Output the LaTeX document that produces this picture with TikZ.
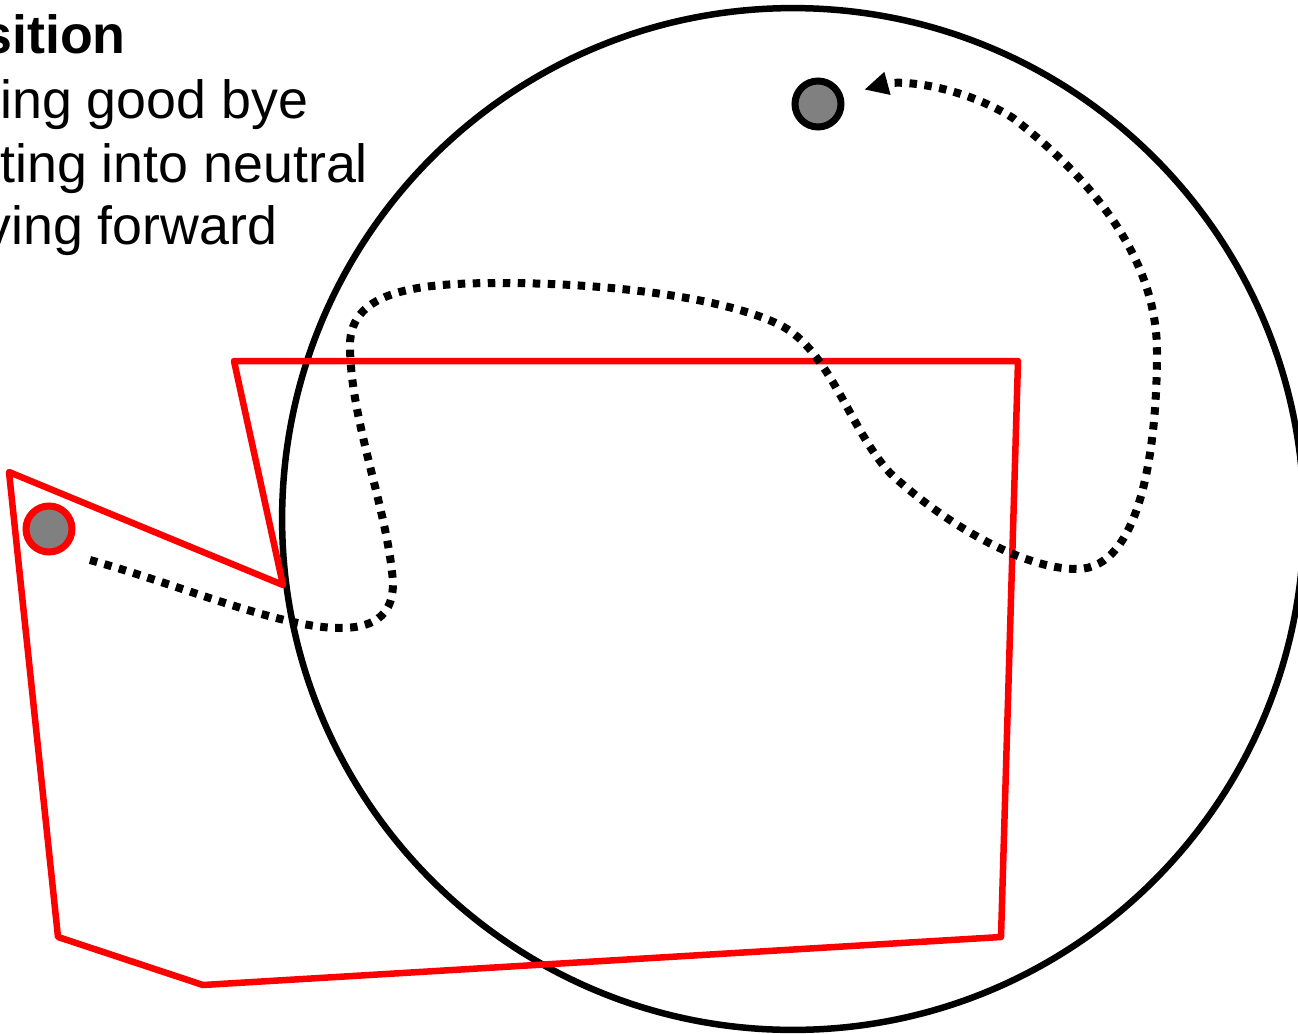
\documentclass[tikz,border=0pt]{standalone}
\usepackage{fontspec}
\setmainfont{Liberation Sans}
\usepackage{tikz}
\usetikzlibrary{arrows.meta, positioning, calc}
\definecolor{pathred}{HTML}{FF0000}
\definecolor{dotgray}{HTML}{808080}

\begin{document}
\begin{tikzpicture}[
    x=0.02cm, y=-0.02cm,
    ring/.style={circle, draw=black, line width=0.13cm, minimum size=20.44cm, inner sep=0pt},
    marker/.style={circle, draw=#1, fill=dotgray, line width=0.14cm, minimum size=0.92cm, inner sep=0pt},
    zone/.style={draw=pathred, line width=0.13cm, line join=round},
    trail/.style={line width=0.16cm, dash pattern=on 0.15cm off 0.15cm, -{Triangle[length=0.48cm, width=0.44cm]}},
    caption/.style={anchor=base west, inner sep=0pt, font=\fontsize{30.6}{36}\selectfont},
  ]
  \useasboundingbox (0,0) rectangle (1298,1034);

  % Text
  \node[caption, font=\fontsize{30.6}{36}\selectfont\bfseries] (title) at (-18,54) {sition};
  \node[caption] (lineA) at (0,118) {ing good bye};
  \node[caption] (lineB) at (0,182) {ting into neutral};
  \node[caption] (lineC) at (-16,244) {ving forward};

  % Shapes
  \node[ring] (stage) at (793,519) {};
  \draw[zone] (234,361) -- (1018,361) -- (1001,937) -- (203,985) -- (58,937) -- (9,472) -- (283,585) -- cycle;

  % Nodes
  \node[marker=pathred] (reddot) at (49,529) {};
  \node[marker=black] (graydot) at (818,104) {};
  \coordinate (trailstart) at (90,560);

  % Arrows
  \draw[trail, shorten >=0.44cm] (trailstart)
    .. controls (180,585) and (280,628) .. (340,628)
    .. controls (380,628) and (393,610) .. (393,583)
    .. controls (388,510) and (350,420) .. (350,345)
    .. controls (350,290) and (420,283) .. (500,283)
    .. controls (620,283) and (730,300) .. (780,325)
    .. controls (830,350) and (850,430) .. (890,473)
    .. controls (940,520) and (1020,569) .. (1077,569)
    .. controls (1140,569) and (1157,450) .. (1157,352)
    .. controls (1157,250) and (1080,170) .. (1013,118)
    .. controls (960,85) and (900,80) .. (graydot.19);
\end{tikzpicture}
\end{document}
